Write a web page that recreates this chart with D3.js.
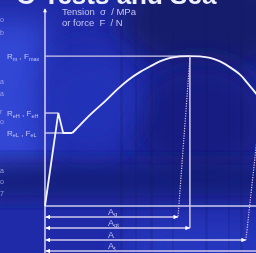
<!DOCTYPE html>
<html><head><meta charset="utf-8">
<script src="https://cdn.jsdelivr.net/npm/d3@7"></script>
<style>html,body{margin:0;padding:0;background:#1e28a0;overflow:hidden}svg{display:block}</style>
</head><body>
<script>
// ---- data ----
const strain = [0, 1.9, 2.6, 3.9, 4.6, 6.4, 8.6, 10.4, 11.9, 13.6, 15.0, 16.4, 17.9, 19.3, 20.7, 22.1, 23.6, 25.0, 26.4, 27.9, 28.9, 30.1, 30.9];
const stress = [0, 312, 245, 245, 262, 305, 352, 393, 423, 450, 468, 485, 497, 502, 503, 502, 497, 485, 466, 440, 413, 379, 356];
const levelNames = [["R","m"," , F","max"], ["R","eH"," , F","eH"], ["R","eL"," , F","eL"]];
const levelValues = [503, 312, 245];
const levelEnds = [20.7, 1.9, 2.6];
const elongNames = [["A","g"], ["A","gt"], ["A",""], ["A","t"]];
const elongValues = [19.0, 20.7, 28.7, 31.2];
const axisTitle = ["Tension  σ  / MPa", "or force  F  / N"];

const W = 256, H = 253;
const svg = d3.select("body").append("svg").attr("width", W).attr("height", H);
const defs = svg.append("defs");
const blur = defs.append("filter").attr("id","blur").attr("x","-50%").attr("y","-50%").attr("width","200%").attr("height","200%");
blur.append("feGaussianBlur").attr("stdDeviation", 14);
const soft = defs.append("filter").attr("id","soft");
soft.append("feGaussianBlur").attr("stdDeviation", 0.45);

// ---- background ----
const bg = svg.append("g");
bg.append("rect").attr("width",W).attr("height",H).attr("fill","#1f2aa8");
bg.append("rect").attr("x",-30).attr("y",20).attr("width",75).attr("height",150).attr("fill","#3046d4").attr("filter","url(#blur)");
bg.append("ellipse").attr("cx",210).attr("cy",20).attr("rx",90).attr("ry",55).attr("fill","#141a6c").attr("filter","url(#blur)");
bg.append("ellipse").attr("cx",200).attr("cy",120).attr("rx",70).attr("ry",60).attr("fill","#181f82").attr("filter","url(#blur)");
bg.append("rect").attr("x",-20).attr("y",165).attr("width",300).attr("height",30).attr("fill","#141b72").attr("filter","url(#blur)");
bg.append("ellipse").attr("cx",200).attr("cy",245).attr("rx",80).attr("ry",25).attr("fill","#2838c0").attr("filter","url(#blur)");
bg.append("ellipse").attr("cx",90).attr("cy",100).attr("rx",50).attr("ry",50).attr("fill","#2433b8").attr("filter","url(#blur)");
// faint scan stripes
[120,135,150,172,205,228,240].forEach((sx,i)=>{
  bg.append("rect").attr("x",sx).attr("y",0).attr("width",i%2?2:3).attr("height",H).attr("fill","#0e1460").attr("opacity",0.18);
});

// big cut-off heading
svg.append("text").attr("x",16).attr("y",4).attr("font-family","Liberation Sans, Arial, sans-serif")
  .attr("font-weight","bold").attr("font-size",26).attr("fill","#eef0ff").attr("filter","url(#soft)")
  .text("O Tests and Sea");
// left column text fragments
const leftFrag = [[22,"o"],[35,"b"],[84,"a"],[96,"a"],[114,"r"],[124,"o"],[173,"a"],[184,"o"],[196,"7"]];
svg.append("g").selectAll("text").data(leftFrag).join("text")
  .attr("x",0).attr("y",d=>d[0]).attr("font-family","Liberation Sans, Arial, sans-serif")
  .attr("font-size",7).attr("fill","#b8bcf0").attr("opacity",0.8).text(d=>d[1]);

// ---- scales ----
const x = d3.scaleLinear().domain([0, 30]).range([45, 255]);
const y = d3.scaleLinear().domain([0, 500]).range([206, 57]);
const rowOff = [11, 22, 34, 45];

const lineCol = "#cfc8ee", curveCol = "#f4f2ff", textCol = "#c4c4f2";
const g = svg.append("g").attr("filter","url(#soft)");

// arrow marker
defs.append("marker").attr("id","aR").attr("viewBox","0 0 10 10")
  .attr("refX",10).attr("refY",5).attr("markerWidth",5).attr("markerHeight",4.5)
  .attr("markerUnits","userSpaceOnUse").attr("orient","auto-start-reverse")
  .append("path").attr("d","M0,0L10,5L0,10Z").attr("fill","#ffffff");

// y axis
g.append("line").attr("x1",x(0)).attr("x2",x(0)).attr("y1",y(660)).attr("y2",H+2)
  .attr("stroke",lineCol).attr("stroke-width",1.6);
g.append("path").attr("d",`M${x(0)-2},${y(660)+3}L${x(0)},${y(660)-1}L${x(0)+2},${y(660)+3}Z`).attr("fill","#fff");
// x axis
g.append("line").attr("x1",x(0)).attr("x2",W+2).attr("y1",y(0)).attr("y2",y(0))
  .attr("stroke",lineCol).attr("stroke-width",1.5);

// axis title
svg.append("g").selectAll("text").data(axisTitle).join("text")
  .attr("x",62).attr("y",(d,i)=>15+i*11).attr("font-family","Liberation Sans, Arial, sans-serif")
  .attr("font-size",9.5).attr("fill",textCol).attr("filter","url(#soft)")
  .style("white-space","pre").text(d=>d);

// level lines + labels
levelValues.forEach((v,i)=>{
  g.append("line").attr("x1",x(0)).attr("x2",x(levelEnds[i])).attr("y1",y(v)).attr("y2",y(v))
    .attr("stroke",lineCol).attr("stroke-width",1.4);
  const t = svg.append("text").attr("x",7).attr("y",y(v)+3).attr("font-family","Liberation Sans, Arial, sans-serif")
    .attr("font-size",8).attr("fill",textCol).attr("filter","url(#soft)");
  const n = levelNames[i];
  t.append("tspan").text(n[0]);
  t.append("tspan").attr("font-size",5.5).attr("dy",1.5).text(n[1]);
  t.append("tspan").attr("dy",-1.5).text(n[2]);
  t.append("tspan").attr("font-size",5.5).attr("dy",1.5).text(n[3]);
});

// stress-strain curve
const pts = strain.map((s,i)=>[x(s), y(stress[i])]);
g.append("path").attr("d", d3.line().curve(d3.curveLinear)(pts.slice(0,4)))
  .attr("fill","none").attr("stroke",curveCol).attr("stroke-width",1.8).attr("stroke-linejoin","miter");
g.append("path").attr("d", d3.line().curve(d3.curveCatmullRom.alpha(0.5))(pts.slice(3)))
  .attr("fill","none").attr("stroke",curveCol).attr("stroke-width",1.9);

// Agt vertical from maximum
g.append("line").attr("x1",x(elongValues[1])).attr("x2",x(elongValues[1]))
  .attr("y1",y(levelValues[0])).attr("y2",y(0)+rowOff[1])
  .attr("stroke",lineCol).attr("stroke-width",1.5);
// dotted unloading lines
const fr = pts[pts.length-1];
g.append("line").attr("x1",x(elongValues[1])).attr("y1",y(levelValues[0])+2)
  .attr("x2",x(elongValues[0])).attr("y2",y(0)+rowOff[0])
  .attr("stroke","#e6c4e6").attr("stroke-width",1.2).attr("stroke-dasharray","1.2,1.3");
g.append("line").attr("x1",fr[0]).attr("y1",fr[1])
  .attr("x2",x(elongValues[2])).attr("y2",y(0)+rowOff[2])
  .attr("stroke","#e6c4e6").attr("stroke-width",1.2).attr("stroke-dasharray","1.2,1.3");

// elongation arrows
elongValues.forEach((v,i)=>{
  const yy = y(0)+rowOff[i];
  g.append("line").attr("x1",x(0)+0.5).attr("x2",x(v)).attr("y1",yy).attr("y2",yy)
    .attr("stroke",lineCol).attr("stroke-width",1.4)
    .attr("marker-start","url(#aR)").attr("marker-end","url(#aR)");
  const t = svg.append("text").attr("x",108).attr("y",yy-2.5).attr("font-family","Liberation Sans, Arial, sans-serif")
    .attr("font-size",9).attr("fill",textCol).attr("filter","url(#soft)");
  t.append("tspan").text(elongNames[i][0]);
  t.append("tspan").attr("font-size",6).attr("dy",1.5).text(elongNames[i][1]);
});
</script>
</body></html>
